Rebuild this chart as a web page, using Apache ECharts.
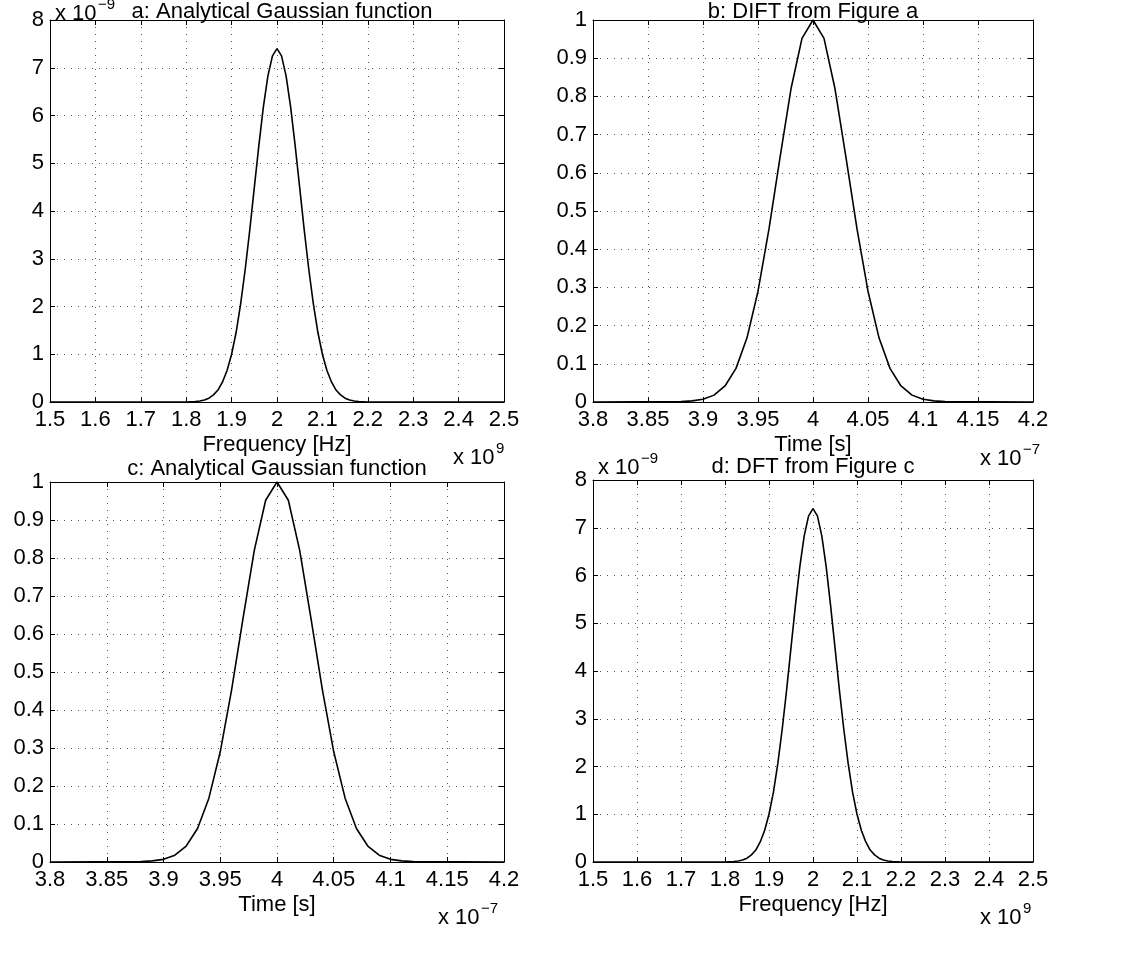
<!DOCTYPE html>
<html><head><meta charset="utf-8">
<script src="https://cdn.jsdelivr.net/npm/echarts@6/dist/echarts.min.js"></script>
<style>html,body{margin:0;padding:0;background:#fff}#c{width:1144px;height:961px}</style>
</head><body><div id="c"></div>
<script>
// Frequency axis (units of 1e9 Hz) and Gaussian spectrum (units of 1e-9)
const freqX = [1.5, 1.80, 1.81, 1.82, 1.83, 1.84, 1.85, 1.86, 1.87, 1.88, 1.89, 1.90, 1.91, 1.92, 1.93, 1.94, 1.95, 1.96, 1.97, 1.98, 1.99, 2.00,
  2.01, 2.02, 2.03, 2.04, 2.05, 2.06, 2.07, 2.08, 2.09, 2.10, 2.11, 2.12, 2.13, 2.14, 2.15, 2.16, 2.17, 2.18, 2.19, 2.20, 2.5];
const freqA = [0, 0, 0.005, 0.01, 0.02, 0.04, 0.08, 0.15, 0.25, 0.42, 0.66, 1.00, 1.46, 2.06, 2.78, 3.60, 4.49, 5.37, 6.18, 6.83, 7.25, 7.40,
  7.25, 6.83, 6.18, 5.37, 4.49, 3.60, 2.78, 2.06, 1.46, 1.00, 0.66, 0.42, 0.25, 0.15, 0.08, 0.04, 0.02, 0.01, 0.005, 0, 0];
const freqD = [0, 0, 0.005, 0.01, 0.02, 0.04, 0.08, 0.15, 0.25, 0.42, 0.66, 1.00, 1.46, 2.06, 2.78, 3.60, 4.49, 5.37, 6.18, 6.83, 7.25, 7.40,
  7.25, 6.83, 6.18, 5.37, 4.49, 3.60, 2.78, 2.06, 1.46, 1.00, 0.66, 0.42, 0.25, 0.15, 0.08, 0.04, 0.02, 0.01, 0.005, 0, 0];
// Time axis (units of 1e-7 s) and Gaussian pulse
const timeX = [3.8, 3.88, 3.89, 3.90, 3.91, 3.92, 3.93, 3.94, 3.95, 3.96, 3.97, 3.98, 3.99, 4.00,
  4.01, 4.02, 4.03, 4.04, 4.05, 4.06, 4.07, 4.08, 4.09, 4.10, 4.11, 4.12, 4.2];
const timeB = [0, 0.001, 0.003, 0.007, 0.018, 0.042, 0.088, 0.168, 0.290, 0.453, 0.640, 0.820, 0.952, 1.0,
  0.952, 0.820, 0.640, 0.453, 0.290, 0.168, 0.088, 0.042, 0.018, 0.007, 0.003, 0.001, 0];
const timeC = [0, 0.001, 0.003, 0.007, 0.018, 0.042, 0.088, 0.168, 0.290, 0.453, 0.640, 0.820, 0.952, 1.0,
  0.952, 0.820, 0.640, 0.453, 0.290, 0.168, 0.088, 0.042, 0.018, 0.007, 0.003, 0.001, 0];

const titles = ['a: Analytical Gaussian function', 'b: DIFT from Figure a', 'c: Analytical Gaussian function', 'd: DFT from Figure c'];
const xNames = ['Frequency [Hz]', 'Time [s]', 'Time [s]', 'Frequency [Hz]'];

const FONT = 'Liberation Sans, Arial, Helvetica, sans-serif';
const FS = 22;
const chart = echarts.init(document.getElementById('c'));

const grids = [
  {left: 50, top: 20, width: 454, height: 382},
  {left: 593, top: 20, width: 440, height: 382},
  {left: 50, top: 482, width: 454, height: 380},
  {left: 593, top: 480, width: 440, height: 382}
];
const xr = [[1.5, 2.5, 0.1], [3.8, 4.2, 0.05], [3.8, 4.2, 0.05], [1.5, 2.5, 0.1]];
const yr = [[0, 8, 1], [0, 1, 0.1], [0, 1, 0.1], [0, 8, 1]];
const gridLine = {color: '#555', width: 1, type: [1, 6]};

const xAxis = [], yAxis = [], series = [];
const datasets = [[freqX, freqA], [timeX, timeB], [timeX, timeC], [freqX, freqD]];
for (let i = 0; i < 4; i++) {
  xAxis.push({type: 'value', gridIndex: i, min: xr[i][0], max: xr[i][1], interval: xr[i][2],
    name: xNames[i], nameLocation: 'middle', nameGap: 32,
    nameTextStyle: {color: '#000', fontSize: FS, fontFamily: FONT},
    axisLine: {lineStyle: {color: '#000', width: 1}},
    axisTick: {inside: true, length: 5, lineStyle: {color: '#000'}},
    axisLabel: {color: '#000', fontSize: FS, fontFamily: FONT, margin: 7},
    splitLine: {show: true, lineStyle: gridLine}});
  yAxis.push({type: 'value', gridIndex: i, min: yr[i][0], max: yr[i][1], interval: yr[i][2],
    axisLine: {show: true, lineStyle: {color: '#000', width: 1}},
    axisTick: {show: true, inside: true, length: 5, lineStyle: {color: '#000'}},
    axisLabel: {color: '#000', fontSize: FS, fontFamily: FONT, margin: 6},
    splitLine: {show: true, lineStyle: gridLine}});
  series.push({type: 'line', xAxisIndex: i, yAxisIndex: i, showSymbol: false, symbol: 'none',
    lineStyle: {color: '#000', width: 1.6}, animation: false,
    data: datasets[i][0].map((x, k) => [x, datasets[i][1][k]])});
}
for (let i = 0; i < 4; i++) {
  xAxis.push({type: 'value', gridIndex: i, position: 'top', min: xr[i][0], max: xr[i][1], interval: xr[i][2],
    axisLine: {show: true, onZero: false, lineStyle: {color: '#000', width: 1}},
    axisTick: {inside: true, length: 5, lineStyle: {color: '#000'}},
    axisLabel: {show: false}, splitLine: {show: false}});
  yAxis.push({type: 'value', gridIndex: i, position: 'right', min: yr[i][0], max: yr[i][1], interval: yr[i][2],
    axisLine: {show: true, onZero: false, lineStyle: {color: '#000', width: 1}},
    axisTick: {show: true, inside: true, length: 5, lineStyle: {color: '#000'}},
    axisLabel: {show: false}, splitLine: {show: false}});
}

function txt(x, y, s, size, align) {
  return {type: 'text', x: x, y: y, style: {text: s, fill: '#000', font: size + 'px ' + FONT,
    textAlign: align || 'left', textVerticalAlign: 'middle'}};
}
const g = [
  txt(282, 12, titles[0], FS, 'center'),
  txt(813, 12, titles[1], FS, 'center'),
  txt(277, 469, titles[2], FS, 'center'),
  txt(813, 467, titles[3], FS, 'center'),
  // exponent labels
  txt(55, 14, 'x 10', FS), txt(98, 5, '\u22129', 15),
  txt(453, 458, 'x 10', FS), txt(496, 449, '9', 15),
  txt(980, 459, 'x 10', FS), txt(1023, 450, '\u22127', 15),
  txt(438, 918, 'x 10', FS), txt(481, 909, '\u22127', 15),
  txt(598, 468, 'x 10', FS), txt(641, 459, '\u22129', 15),
  txt(980, 918, 'x 10', FS), txt(1023, 909, '9', 15)
];

chart.setOption({
  animation: false,
  backgroundColor: '#fff',
  grid: grids,
  xAxis: xAxis,
  yAxis: yAxis,
  series: series,
  graphic: g
});
</script></body></html>
